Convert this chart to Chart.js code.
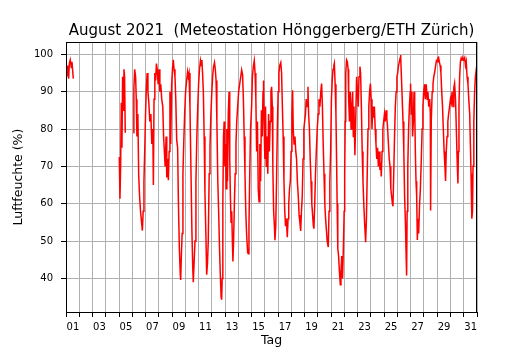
<!DOCTYPE html>
<html>
<head>
<meta charset="utf-8">
<script src="https://cdn.jsdelivr.net/npm/chart.js@4"></script>
<style>
  html, body { margin: 0; padding: 0; background: #fff; }
</style>
</head>
<body>
<canvas id="chart" width="530" height="350"></canvas>
<script>
// Tag im August (0 = Beginn der Achse), null = Messlücke
const tage = [
  0.05, 0.12, 0.2, 0.25, 0.32, 0.4, 0.45, 0.55,
  2.0,
  4.02, 4.07, 4.12, 4.17, 4.22, 4.27, 4.32, 4.37, 4.42, 4.47,
  4.75,
  5.08, 5.12, 5.18, 5.25, 5.3, 5.35, 5.42, 5.48, 5.55, 5.62, 5.7, 5.76, 5.82, 5.88, 5.95,
  6.0, 6.05, 6.12, 6.18, 6.25, 6.32, 6.4, 6.47, 6.55, 6.59, 6.64, 6.7, 6.76, 6.82, 6.88, 6.95,
  7.02, 7.08, 7.15, 7.22, 7.3, 7.36, 7.42, 7.48, 7.55, 7.6, 7.68, 7.72, 7.78, 7.84, 7.9, 7.97,
  8.03, 8.09, 8.15, 8.22, 8.28, 8.35, 8.42, 8.48, 8.55, 8.62, 8.65, 8.7, 8.76, 8.82, 8.88, 8.95,
  9.02, 9.1, 9.17, 9.22, 9.28, 9.35, 9.42, 9.5, 9.56, 9.6, 9.66, 9.73, 9.8, 9.87, 9.93,
  10.0, 10.07, 10.14, 10.2, 10.25, 10.3, 10.36, 10.42, 10.48, 10.55, 10.61, 10.67, 10.73, 10.8, 10.86, 10.93,
  11.0, 11.06, 11.12, 11.2, 11.26, 11.32, 11.38, 11.45, 11.52, 11.58, 11.64, 11.7, 11.74, 11.78, 11.83, 11.88, 11.93, 11.98,
  12.03, 12.08, 12.13, 12.18, 12.24, 12.3, 12.35, 12.4, 12.45, 12.5, 12.55, 12.59, 12.64, 12.7, 12.76, 12.82, 12.88, 12.95,
  13.02, 13.1, 13.18, 13.25, 13.32, 13.38, 13.44, 13.5, 13.56, 13.62, 13.7, 13.75, 13.8, 13.86, 13.92,
  14.0, 14.06, 14.13, 14.2, 14.26, 14.32, 14.38, 14.44, 14.5, 14.56, 14.62, 14.68, 14.74, 14.8, 14.86, 14.9, 14.95,
  15.0, 15.05, 15.1, 15.16, 15.22, 15.28, 15.34, 15.4, 15.46, 15.51, 15.56, 15.6, 15.66, 15.72, 15.76, 15.82, 15.88, 15.94,
  16.0, 16.06, 16.12, 16.2, 16.26, 16.32, 16.38, 16.44, 16.5, 16.56, 16.62, 16.69, 16.75, 16.8, 16.86, 16.92, 16.98,
  17.04, 17.09, 17.14, 17.2, 17.27, 17.33, 17.39, 17.45, 17.52, 17.58, 17.64, 17.7, 17.76, 17.82, 17.88, 17.94,
  18.0, 18.06, 18.12, 18.18, 18.25, 18.3, 18.36, 18.42, 18.48, 18.54, 18.6, 18.66, 18.7, 18.76, 18.82, 18.88, 18.95,
  19.02, 19.08, 19.15, 19.22, 19.28, 19.34, 19.4, 19.46, 19.52, 19.58, 19.64, 19.7, 19.78, 19.84, 19.9, 19.96,
  20.02, 20.08, 20.14, 20.2, 20.24, 20.3, 20.36, 20.41, 20.45, 20.5, 20.56, 20.62, 20.69, 20.74, 20.8, 20.86, 20.92, 20.98,
  21.02, 21.06, 21.1, 21.16, 21.22, 21.28, 21.32, 21.38, 21.44, 21.5, 21.56, 21.62, 21.67, 21.72, 21.79, 21.85, 21.92, 21.98,
  22.04, 22.1, 22.17, 22.22, 22.28, 22.34, 22.4, 22.46, 22.52, 22.58, 22.6, 22.66, 22.72, 22.78, 22.84, 22.9, 22.96,
  23.02, 23.08, 23.14, 23.2, 23.26, 23.32, 23.38, 23.44, 23.5, 23.56, 23.62, 23.68, 23.74, 23.78, 23.84, 23.9, 23.96,
  24.02, 24.08, 24.14, 24.2, 24.26, 24.32, 24.38, 24.44, 24.5, 24.56, 24.62, 24.66, 24.72, 24.78, 24.84, 24.9, 24.96,
  25.02, 25.08, 25.14, 25.2, 25.24, 25.3, 25.36, 25.42, 25.48, 25.54, 25.6, 25.65, 25.69, 25.73, 25.78, 25.84, 25.9, 25.96, 25.99,
  26.04, 26.09, 26.14, 26.2, 26.25, 26.3, 26.35, 26.4, 26.45, 26.5, 26.55, 26.6, 26.67, 26.73, 26.8, 26.86, 26.92, 26.98,
  27.05, 27.1, 27.17, 27.24, 27.3, 27.36, 27.43, 27.48, 27.5, 27.55, 27.62, 27.68, 27.74, 27.8, 27.88, 27.94,
  28.0, 28.05, 28.1, 28.16, 28.22, 28.28, 28.34, 28.4, 28.46, 28.52, 28.58, 28.63, 28.68, 28.74, 28.8, 28.86, 28.93,
  29.0, 29.06, 29.12, 29.19, 29.25, 29.31, 29.38, 29.44, 29.5, 29.56, 29.6, 29.64, 29.69, 29.75, 29.81, 29.87, 29.94,
  30.0, 30.07, 30.13, 30.19, 30.25, 30.32, 30.38, 30.45, 30.5, 30.55, 30.6, 30.62, 30.66, 30.7, 30.76, 30.82, 30.88, 30.95, 31.0
];

// relative Luftfeuchte in %
const feuchte = [
  94, 97, 93.5, 97.5, 98.5, 96.5, 98, 93.5,
  null,
  72.5, 61.3, 70, 87, 75, 94, 85, 96, 94, 79,
  null,
  79, 91, 96, 94, 88, 78, 84, 68, 62, 58, 55, 52.8, 58, 66, 76,
  84, 90, 95, 90, 87, 82, 84, 76, 80, 65, 88, 95, 93, 97.5, 96, 92,
  96, 90, 92, 88, 86, 78, 74, 70, 78, 67, 72, 66.3, 74, 90, 76, 92,
  96, 98.5, 96, 94, 88, 77, 75, 60, 48, 41, 39.6, 46, 52, 68, 76, 84,
  90, 93, 95.3, 94, 95, 86, 70, 52, 43, 39, 44, 50, 66, 78, 85,
  92, 96, 98.3, 97, 98.5, 95, 90, 78, 63, 52, 41, 44, 50, 68, 75, 84,
  90, 94, 96.5, 97.8, 96, 93, 82, 66, 57, 48, 41, 35, 34.3, 40, 60, 78, 82, 70,
  76, 64, 80, 66, 84, 90, 72, 62, 55, 58, 50, 44.5, 50, 60, 68, 76, 82, 86,
  90, 92, 94, 95.8, 94.5, 88, 78, 68, 58, 52, 47, 46.6, 54, 68, 80,
  86, 94, 96.7, 98.3, 95, 88, 74, 82, 64, 60.5, 76, 66, 85, 78, 90, 93, 80,
  72, 86, 70, 78, 68, 84, 74, 82, 90, 91.3, 86, 70, 58, 54, 50.2, 54, 66, 80,
  90, 95, 97, 97.8, 95, 86, 78, 66, 58, 54, 56, 51, 56, 60, 64, 66, 74,
  84, 90.4, 80, 76, 78, 74, 72, 66, 62, 57, 55, 52.7, 58, 62, 72, 80,
  82, 84, 88, 86, 91.3, 84, 80, 72, 66, 60, 57, 54, 53.3, 60, 68, 74, 80,
  84, 88, 86, 90, 92.2, 86, 76, 68, 60, 56, 53, 50, 48.4, 58, 66, 74,
  88, 93, 96, 97, 97.6, 92, 84, 71.6, 60, 48, 46, 42, 38.3, 42, 46, 40, 48, 58,
  68, 82, 95, 98.5, 98, 96, 88, 82, 90, 80, 86, 90, 78, 86, 73, 82, 94, 90,
  86, 94, 96.7, 95, 86, 74, 66, 60, 55, 51, 49.7, 56, 68, 80, 86, 90, 92.2,
  88, 80, 86, 83, 86, 80, 76, 72, 75, 70, 74, 69, 71, 67.3, 74, 80, 82,
  84, 82, 85, 83, 80, 76, 72, 70, 64, 62, 60, 59.3, 68, 78, 86, 90, 94,
  95, 97, 98, 99, 99.8, 94, 88, 82, 74, 62, 55, 47, 40.8, 58, 70, 80, 86, 90, 92.2,
  84, 90, 78, 82, 90, 86, 74, 66, 62, 50.3, 56, 52, 60, 64, 72, 80, 86, 90,
  92, 88, 92, 88, 90, 86, 88, 84, 58.2, 82, 90, 92, 94, 95, 97, 98.3,
  98, 99, 99.2, 98, 97, 95, 90, 86, 80, 74, 70, 66.1, 74, 78, 82, 84, 86,
  88, 87, 90, 86, 91, 92.2, 88, 80, 72, 65.4, 74, 86, 94, 98, 99, 98.5, 99,
  98.5, 99.1, 97, 98, 94, 92, 88, 84, 76, 68, 60, 56, 58, 70, 82, 90, 94, 96, 94
];

const xTickTage = [1, 3, 5, 7, 9, 11, 13, 15, 17, 19, 21, 23, 25, 27, 29, 31];
const yTicks = [40, 50, 60, 70, 80, 90, 100];
const titel = "August 2021  (Meteostation Hönggerberg/ETH Zürich)";

const punkte = tage.map((t, i) => ({ x: t, y: feuchte[i] }));

// Titel über dem Plotbereich zentriert + schwarzer Rahmen
const rahmen = {
  id: "rahmen",
  afterDraw(chart) {
    const { ctx, chartArea: a } = chart;
    ctx.save();
    ctx.strokeStyle = "#000";
    ctx.lineWidth = 1;
    ctx.strokeRect(a.left + 0.5, a.top + 0.5, a.right - a.left - 1, a.bottom - a.top);
    ctx.fillStyle = "#000";
    ctx.font = '15px "DejaVu Sans"';
    ctx.textAlign = "center";
    ctx.textBaseline = "alphabetic";
    ctx.fillText(titel, (a.left + a.right) / 2, 35);
    ctx.restore();
  }
};

const tickFont = { family: "DejaVu Sans", size: 10 };
const labelFont = { family: "DejaVu Sans", size: 12.5 };

new Chart(document.getElementById("chart"), {
  type: "line",
  data: {
    datasets: [{
      data: punkte,
      borderColor: "#ff0000",
      borderWidth: 1.5,
      pointRadius: 0,
      tension: 0,
      spanGaps: false
    }]
  },
  options: {
    responsive: false,
    animation: false,
    devicePixelRatio: 1,
    layout: { padding: { left: 0, right: 53, top: 42, bottom: 0 } },
    plugins: { legend: { display: false }, title: { display: false }, tooltip: { enabled: false } },
    scales: {
      x: {
        type: "linear",
        min: 0,
        max: 31,
        afterFit: s => { s.height = 38; },
        afterBuildTicks: s => { s.ticks = Array.from({ length: 32 }, (_, i) => ({ value: i })); },
        grid: { color: "#b0b0b0", lineWidth: 1, tickColor: "#000", tickLength: 5 },
        border: { display: false },
        ticks: {
          autoSkip: false,
          maxRotation: 0,
          align: "end",
          padding: 4,
          color: "#000",
          font: tickFont,
          callback: v => xTickTage.includes(v) ? String(v).padStart(2, "0") : ""
        },
        title: { display: true, text: "Tag", color: "#000", font: labelFont, padding: { top: 0, bottom: 2 } }
      },
      y: {
        min: 31,
        max: 103.3,
        afterFit: s => { s.width = 66; },
        afterBuildTicks: s => { s.ticks = yTicks.map(v => ({ value: v })); },
        grid: { color: "#b0b0b0", lineWidth: 1, tickColor: "#000", tickLength: 5 },
        border: { display: false },
        ticks: { padding: 8, color: "#000", font: tickFont },
        title: { display: true, text: "Luftfeuchte (%)", color: "#000", font: labelFont, padding: { top: 11, bottom: 0 } }
      }
    }
  },
  plugins: [rahmen]
});
</script>
</body>
</html>
